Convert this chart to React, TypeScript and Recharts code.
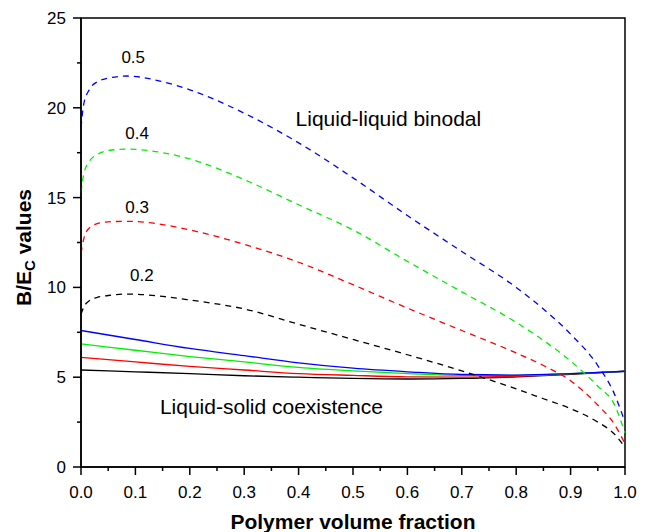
import React from "react";
import {
  LineChart,
  Line,
  XAxis,
  YAxis,
  ReferenceArea,
  ReferenceDot,
} from "recharts";

// polymer volume fraction sampled for the binodal (dashed) curves
const binodalX = [
  0, 0.005, 0.015, 0.03, 0.05, 0.085, 0.15, 0.2, 0.3, 0.4, 0.5, 0.6, 0.7, 0.8,
  0.85, 0.9, 0.95, 0.98, 1.0,
];
const binodal05 = [
  18.9, 20.2, 21.0, 21.45, 21.65, 21.77, 21.45, 21.0, 19.7, 18.05, 16.1, 14.0,
  12.0, 10.0, 8.8, 7.4, 5.65, 4.1, 2.5,
];
const binodal04 = [
  15.3, 16.3, 17.0, 17.4, 17.62, 17.7, 17.5, 17.15, 16.0, 14.6, 13.2, 11.45,
  9.75, 8.05, 7.05, 5.9, 4.5, 3.5, 1.9,
];
const binodal03 = [
  11.9, 12.7, 13.3, 13.55, 13.65, 13.68, 13.5, 13.2, 12.4, 11.4, 10.15, 8.85,
  7.6, 6.35, 5.65, 4.8, 3.45, 2.4, 1.3,
];
const binodal02 = [
  8.5, 8.9, 9.25, 9.45, 9.55, 9.63, 9.5, 9.3, 8.8, 7.95, 7.1, 6.25, 5.35, 4.35,
  3.8, 3.25, 2.5, 1.85, 1.1,
];

// liquid-solid coexistence (solid) curves
const solidX = [0, 0.1, 0.2, 0.3, 0.4, 0.5, 0.6, 0.7, 0.8, 0.9, 1.0];
const solid05 = [7.6, 7.1, 6.6, 6.2, 5.8, 5.5, 5.3, 5.15, 5.12, 5.2, 5.33];
const solid04 = [6.85, 6.5, 6.15, 5.85, 5.55, 5.35, 5.2, 5.1, 5.1, 5.2, 5.33];
const solid03 = [6.1, 5.85, 5.6, 5.4, 5.2, 5.1, 5.02, 5.0, 5.05, 5.18, 5.33];
const solid02 = [5.4, 5.3, 5.2, 5.08, 5.0, 4.93, 4.9, 4.93, 5.02, 5.16, 5.33];

const xTicks = Array.from({ length: 21 }, (_, i) => i * 0.05);
const yTicks = Array.from({ length: 11 }, (_, i) => i * 2.5);

const curveLabels = [
  { x: 0.096, y: 22.83, text: "0.5" },
  { x: 0.103, y: 18.6, text: "0.4" },
  { x: 0.103, y: 14.48, text: "0.3" },
  { x: 0.112, y: 10.7, text: "0.2" },
];
const regionLabels = [
  { x: 0.565, y: 19.38, text: "Liquid-liquid binodal" },
  { x: 0.35, y: 3.34, text: "Liquid-solid coexistence" },
];

const FONT = "Arial, 'Liberation Sans', sans-serif";

const toPoints = (xs: number[], ys: number[]) =>
  xs.map((x, i) => ({ x, y: ys[i] }));

const isMajor = (v: number, step: number) =>
  Math.abs(v / step - Math.round(v / step)) < 1e-6;

function XTick(props: any) {
  const { x, y, payload } = props;
  const major = isMajor(payload.value, 0.1);
  const len = major ? 8 : 4;
  return (
    <g>
      <path d={`M${x},${y}L${x},${y + len}`} stroke="#000" strokeWidth={1.5} fill="none" />
      {major && (
        <text
          x={x}
          y={y + 24.5}
          dy="0.355em"
          textAnchor="middle"
          fontSize={17}
          fontFamily={FONT}
          fill="#000"
        >
          {payload.value.toFixed(1)}
        </text>
      )}
    </g>
  );
}

function YTick(props: any) {
  const { x, y, payload } = props;
  const major = isMajor(payload.value, 5);
  const len = major ? 8 : 4;
  return (
    <g>
      <path d={`M${x},${y}L${x - len},${y}`} stroke="#000" strokeWidth={1.5} fill="none" />
      {major && (
        <text
          x={x - 15}
          y={y}
          dy="0.355em"
          textAnchor="end"
          fontSize={17}
          fontFamily={FONT}
          fill="#000"
        >
          {Math.round(payload.value)}
        </text>
      )}
    </g>
  );
}

export default function App() {
  const dashed = [
    { key: "b02", data: toPoints(binodalX, binodal02), color: "#000000" },
    { key: "b03", data: toPoints(binodalX, binodal03), color: "#ff0000" },
    { key: "b04", data: toPoints(binodalX, binodal04), color: "#00ee00" },
    { key: "b05", data: toPoints(binodalX, binodal05), color: "#0000ff" },
  ];
  const solid = [
    { key: "s02", data: toPoints(solidX, solid02), color: "#000000" },
    { key: "s03", data: toPoints(solidX, solid03), color: "#ff0000" },
    { key: "s04", data: toPoints(solidX, solid04), color: "#00ee00" },
    { key: "s05", data: toPoints(solidX, solid05), color: "#0000ff" },
  ];

  return (
    <LineChart
      width={645}
      height={524}
      margin={{ top: 10, right: 28, left: 0, bottom: 0 }}
    >
      <XAxis
        dataKey="x"
        type="number"
        domain={[0, 1]}
        ticks={xTicks}
        interval={0}
        height={65}
        tickSize={0}
        tickMargin={0}
        tickLine={false}
        tick={(p: any) => <XTick {...p} />}
        axisLine={{ stroke: "#000", strokeWidth: 1.5 }}
        allowDuplicatedCategory={false}
        label={{
          content: ({ viewBox }: any) => (
            <text
              x={viewBox.x + viewBox.width / 2}
              y={viewBox.y + 62}
              textAnchor="middle"
              fontSize={21}
              fontWeight="bold"
              fontFamily={FONT}
              fill="#000"
            >
              Polymer volume fraction
            </text>
          ),
        }}
      />
      <YAxis
        dataKey="y"
        type="number"
        domain={[0, 25]}
        ticks={yTicks}
        interval={0}
        width={73}
        tickSize={0}
        tickMargin={0}
        tickLine={false}
        tick={(p: any) => <YTick {...p} />}
        axisLine={{ stroke: "#000", strokeWidth: 1.5 }}
        label={{
          content: ({ viewBox }: any) => {
            const cx = 16;
            const cy = viewBox.y + viewBox.height / 2 + 5;
            return (
              <text
                x={cx}
                y={cy}
                transform={`rotate(-90 ${cx} ${cy})`}
                textAnchor="middle"
                dy="0.355em"
                fontSize={21}
                fontWeight="bold"
                fontFamily={FONT}
                fill="#000"
              >
                <tspan>B/E</tspan>
                <tspan fontSize={15} dy={4}>C</tspan>
                <tspan dy={-4}> values</tspan>
              </text>
            );
          },
        }}
      />
      <ReferenceArea
        x1={0}
        x2={1}
        y1={0}
        y2={25}
        fill="none"
        stroke="#000"
        strokeWidth={1.5}
      />
      {solid.map((s) => (
        <Line
          key={s.key}
          data={s.data}
          dataKey="y"
          type="monotone"
          stroke={s.color}
          strokeWidth={1.3}
          dot={false}
          isAnimationActive={false}
        />
      ))}
      {dashed.map((s) => (
        <Line
          key={s.key}
          data={s.data}
          dataKey="y"
          type="monotone"
          stroke={s.color}
          strokeWidth={1.3}
          strokeDasharray="6 5"
          dot={false}
          isAnimationActive={false}
        />
      ))}
      {curveLabels.map((l) => (
        <ReferenceDot
          key={l.text}
          x={l.x}
          y={l.y}
          r={0}
          fill="none"
          stroke="none"
          label={{
            value: l.text,
            position: "center",
            fontSize: 17,
            fontFamily: FONT,
            fill: "#000",
          }}
        />
      ))}
      {regionLabels.map((l) => (
        <ReferenceDot
          key={l.text}
          x={l.x}
          y={l.y}
          r={0}
          fill="none"
          stroke="none"
          label={{
            value: l.text,
            position: "center",
            fontSize: 21,
            fontFamily: FONT,
            fill: "#000",
          }}
        />
      ))}
    </LineChart>
  );
}
